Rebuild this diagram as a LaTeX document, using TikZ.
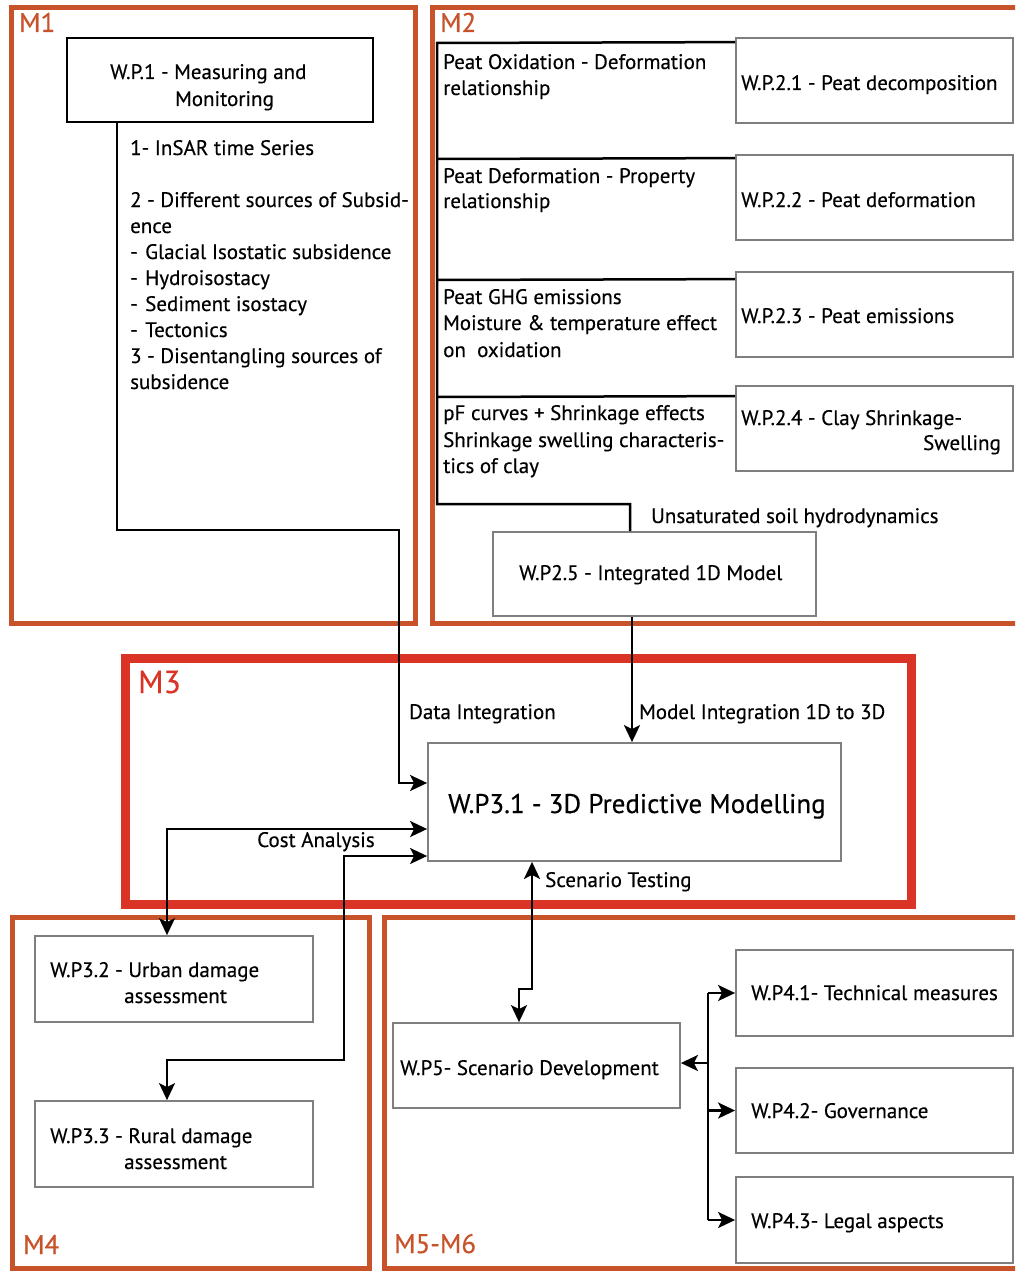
\documentclass[tikz,border=0pt]{standalone}
\usepackage{fontspec}
\setmainfont{PT Sans}[FakeBold=0.35]
\usetikzlibrary{arrows.meta}
\definecolor{morange}{HTML}{C8532B}
\definecolor{mred}{HTML}{D93425}
\definecolor{bgray}{HTML}{7F7F7F}
\begin{document}
\begin{tikzpicture}[x=1pt,y=-1pt,
  mframe/.style={draw=morange, line width=5pt},
  rframe/.style={draw=mred, line width=9pt},
  gbox/.style={draw=bgray, line width=1.8pt, rectangle, inner sep=0pt},
  kbox/.style={draw=black, line width=2.4pt, rectangle, inner sep=0pt},
  conn/.style={draw=black, line width=2.4pt},
  bline/.style={draw=black, line width=2.5pt},
  tip/.tip={Stealth[length=17pt,width=16pt,inset=4pt]},
  arr/.style={conn, -tip},
  darr/.style={conn, tip-tip},
  txt/.style={anchor=base west, inner sep=0pt, font=\fontsize{21}{25}\selectfont},
  big/.style={txt, font=\fontsize{27}{32}\selectfont},
  mlab/.style={txt, text=morange, font=\fontsize{27}{32}\selectfont},
  rlab/.style={txt, text=mred, font=\fontsize{32}{36}\selectfont}]
\useasboundingbox (0,0) rectangle (1015,1271);
\clip (0,0) rectangle (1015,1271);
\fill[white] (0,0) rectangle (1015,1271);

% module frames
\draw[mframe] (11,7.5) rectangle (415,623);
\draw[mframe] (432,7.5) rectangle (1040,623);
\draw[rframe] (125,658) rectangle (911,904);
\draw[mframe] (12.5,917.5) rectangle (369.5,1268.5);
\draw[mframe] (384,917.5) rectangle (1040,1268.5);

\node[mlab] (lm1) at (19,32) {M1};
\node[mlab] (lm2) at (440,32) {M2};
\node[rlab] (lm3) at (138,693) {M3};
\node[mlab] (lm4) at (23,1254) {M4};
\node[mlab] (lm56) at (394,1253) {M5-M6};

% boxes
\node[kbox, minimum width=306pt, minimum height=84pt] (wp1) at (220,80) {};
\node[gbox, minimum width=277pt, minimum height=85pt] (wp21) at (874.5,80.5) {};
\node[gbox, minimum width=277pt, minimum height=85pt] (wp22) at (874.5,197.5) {};
\node[gbox, minimum width=277pt, minimum height=85pt] (wp23) at (874.5,314.5) {};
\node[gbox, minimum width=277pt, minimum height=85pt] (wp24) at (874.5,428.5) {};
\node[gbox, minimum width=323pt, minimum height=84pt] (wp25) at (654.5,574) {};
\node[gbox, minimum width=413pt, minimum height=118pt] (wp31) at (634.5,802) {};
\node[gbox, minimum width=278pt, minimum height=86pt] (wp32) at (174,979) {};
\node[gbox, minimum width=278pt, minimum height=86pt] (wp33) at (174,1144) {};
\node[gbox, minimum width=287pt, minimum height=85pt] (wp5) at (536.5,1065.5) {};
\node[gbox, minimum width=277pt, minimum height=86pt] (wp41) at (874.5,993) {};
\node[gbox, minimum width=277pt, minimum height=85pt] (wp42) at (874.5,1110.5) {};
\node[gbox, minimum width=277pt, minimum height=86pt] (wp43) at (874.5,1220) {};

% box texts
\node[txt] (t1a) at (110,79) {W.P.1 - Measuring and};
\node[txt] (t1b) at (175,106) {Monitoring};
\node[txt] (t21) at (741,90) {W.P.2.1 - Peat decomposition};
\node[txt] (t22) at (741,207) {W.P.2.2 - Peat deformation};
\node[txt] (t23) at (741,323) {W.P.2.3 - Peat emissions};
\node[txt] (t24a) at (741,425) {W.P.2.4 - Clay Shrinkage-};
\node[txt, anchor=base east] (t24b) at (1001,450) {Swelling};
\node[txt] (t25) at (519,580) {W.P2.5 - Integrated 1D Model};
\node[big] (t31) at (448,813) {W.P3.1 - 3D Predictive Modelling};
\node[txt] (t32a) at (50,977) {W.P3.2 - Urban damage};
\node[txt] (t32b) at (124,1003) {assessment};
\node[txt] (t33a) at (50,1143) {W.P3.3 - Rural damage};
\node[txt] (t33b) at (124,1169) {assessment};
\node[txt] (t5) at (400,1075) {W.P5- Scenario Development};
\node[txt] (t41) at (751,1000) {W.P4.1- Technical measures};
\node[txt] (t42) at (751,1118) {W.P4.2- Governance};
\node[txt] (t43) at (751,1228) {W.P4.3- Legal aspects};

% M1 list
\node[txt] (l1) at (130,155) {1- InSAR time Series};
\node[txt] (l2) at (130,207) {2 - Different sources of Subsid-};
\node[txt] (l3) at (130,233) {ence};
\node[txt] (l4d) at (130,259) {-};
\node[txt] (l4) at (145,259) {Glacial Isostatic subsidence};
\node[txt] (l5d) at (130,285) {-};
\node[txt] (l5) at (145,285) {Hydroisostacy};
\node[txt] (l6d) at (130,311) {-};
\node[txt] (l6) at (145,311) {Sediment isostacy};
\node[txt] (l7d) at (130,337) {-};
\node[txt] (l7) at (145,337) {Tectonics};
\node[txt] (l8) at (130,363) {3 - Disentangling sources of};
\node[txt] (l9) at (130,389) {subsidence};

% M2 bracket texts
\node[txt] (p1a) at (443,69) {Peat Oxidation - Deformation};
\node[txt] (p1b) at (443,95) {relationship};
\node[txt] (p2a) at (443,183) {Peat Deformation - Property};
\node[txt] (p2b) at (443,208) {relationship};
\node[txt] (p3a) at (443,304) {Peat GHG emissions};
\node[txt] (p3b) at (443,330) {Moisture \& temperature effect};
\node[txt] (p3c) at (443,357) {on\ \ oxidation};
\node[txt] (p4a) at (443,420) {pF curves + Shrinkage effects};
\node[txt] (p4b) at (443,447) {Shrinkage swelling characteris-};
\node[txt] (p4c) at (443,473) {tics of clay};
\node[txt] (uns) at (651,523) {Unsaturated soil hydrodynamics};

% connector labels
\node[txt] (ldi) at (409,719) {Data Integration};
\node[txt] (lmi) at (639,719) {Model Integration 1D to 3D};
\node[txt] (lca) at (257,847) {Cost Analysis};
\node[txt] (lst) at (545,887) {Scenario Testing};

% M2 bracket
\draw[bline] ([yshift=-5pt]wp21.north west) -- (437,43) -- (437,504) -| ([xshift=-24.5pt]wp25.north);
\draw[bline] ([yshift=-4pt]wp22.north west) -- (437,159);
\draw[bline] ([yshift=-8pt]wp23.north west) -- (437,280);
\draw[bline] ([yshift=-11pt]wp24.north west) -- (437,397);

% connectors
\coordinate (bus) at (708,0);
\draw[arr] ([xshift=51pt]wp1.south west) |- (399,530) |- ([yshift=19pt]wp31.west);
\draw[arr] ([xshift=-22.5pt]wp25.south) -- ([xshift=-2.5pt]wp31.north);
\draw[darr] ([xshift=-7pt]wp32.north) |- ([yshift=-27pt]wp31.west);
\draw[darr] ([xshift=-7pt]wp33.north) -- (167,1060) -| (344,856) -- ([yshift=-54pt]wp31.west);
\draw[darr] ([xshift=-17.5pt]wp5.north) -- (519,989) -| ([xshift=-102.5pt]wp31.south);
\draw[conn] (wp41.west -| bus) -- (wp43.west -| bus);
\draw[arr] ([yshift=2.5pt]wp5.east -| bus) -- ([yshift=2.5pt]wp5.east);
\draw[arr] (wp41.west -| bus) -- (wp41.west);
\draw[arr] (wp42.west -| bus) -- (wp42.west);
\draw[arr] (wp43.west -| bus) -- (wp43.west);
\end{tikzpicture}
\end{document}
